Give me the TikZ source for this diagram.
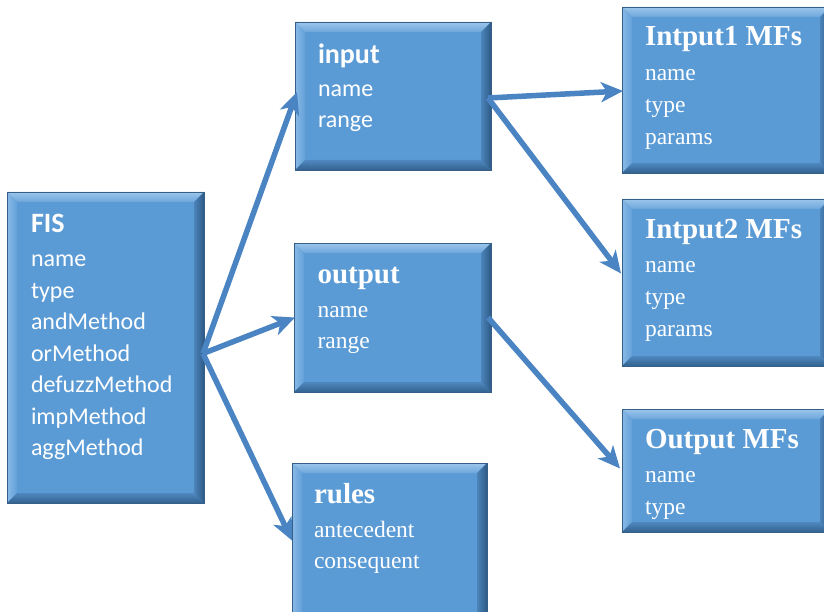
\documentclass[tikz,border=0pt]{standalone}
\usepackage{fontspec}
\setmainfont{Liberation Serif}
\newfontfamily\sansbody{Carlito}
\usetikzlibrary{arrows.meta,calc,fit}

\definecolor{boxblue}{HTML}{5B9BD5}
\definecolor{bevtopout}{HTML}{9DC6EB}
\definecolor{bevtopin}{HTML}{6CA6DB}
\definecolor{bevleftout}{HTML}{88BAE6}
\definecolor{bevleftin}{HTML}{63A0D8}
\definecolor{bevrightin}{HTML}{4C84BA}
\definecolor{bevrightout}{HTML}{2E5A86}
\definecolor{bevbotin}{HTML}{4F88C0}
\definecolor{bevbotout}{HTML}{33628F}
\definecolor{edgeblue}{HTML}{365F88}
\definecolor{arrowblue}{HTML}{4A84C2}

\tikzset{
  boxbody/.style={rectangle, inner sep=0pt, outer sep=0pt, fill=boxblue},
  txt/.style={anchor=base west, inner sep=0pt, outer sep=0pt, text=white},
  sanstitle/.style={txt, font=\sansbody\bfseries\fontsize{28bp}{30bp}\selectfont},
  sansitem/.style={txt, font=\sansbody\fontsize{24bp}{26bp}\selectfont},
  seriftitle/.style={txt, font=\bfseries\fontsize{29bp}{31bp}\selectfont},
  serifitem/.style={txt, font=\fontsize{23.5bp}{25bp}\selectfont},
  link/.style={draw=arrowblue, line width=5.5bp,
    -{Stealth[length=22bp,width=20bp,inset=6bp]}}
}

% bevelled box: name, left, top, right, bottom (y grows downwards)
\newcommand{\bevelbox}[5]{%
  \node[boxbody, fit={(#2,#3) (#4,#5)}] (#1) {};
  \shade[top color=bevtopout, bottom color=bevtopin]
    (#1.north west) -- (#1.north east)
    -- ($(#1.north east)+(-10,10)$) -- ($(#1.north west)+(10,10)$) -- cycle;
  \shade[left color=bevleftout, right color=bevleftin]
    (#1.north west) -- ($(#1.north west)+(10,10)$)
    -- ($(#1.south west)+(10,-10)$) -- (#1.south west) -- cycle;
  \shade[left color=bevrightin, right color=bevrightout]
    (#1.north east) -- (#1.south east)
    -- ($(#1.south east)+(-10,-10)$) -- ($(#1.north east)+(-10,10)$) -- cycle;
  \shade[top color=bevbotin, bottom color=bevbotout]
    (#1.south west) -- ($(#1.south west)+(10,-10)$)
    -- ($(#1.south east)+(-10,-10)$) -- (#1.south east) -- cycle;
  \draw[edgeblue, line width=0.8bp] (#1.north west) rectangle (#1.south east);
}

\begin{document}
\begin{tikzpicture}[x=1bp, y=-1bp]
  \useasboundingbox (0,0) rectangle (824,612);
  \fill[white] (0,0) rectangle (824,612);
  \clip (0,0) rectangle (824,612);

  % boxes
  \bevelbox{fis}{7}{192}{204}{503}
  \bevelbox{input}{295}{22}{491}{170}
  \bevelbox{output}{294}{243}{491}{392}
  \bevelbox{rules}{292}{463}{487}{622}
  \bevelbox{inmfa}{622}{7}{830}{173}
  \bevelbox{inmfb}{622}{199}{830}{366}
  \bevelbox{outmf}{622}{409}{830}{532}

  % FIS
  \node[sanstitle] (fis0) at (31,232.5) {FIS};
  \node[sansitem] (fis1) at (31,266.5) {name};
  \node[sansitem] (fis2) at (31,298) {type};
  \node[sansitem] (fis3) at (31,329.5) {andMethod};
  \node[sansitem] (fis4) at (31,361) {orMethod};
  \node[sansitem] (fis5) at (31,392.5) {defuzzMethod};
  \node[sansitem] (fis6) at (31,424) {impMethod};
  \node[sansitem] (fis7) at (31,455.5) {aggMethod};

  % input
  \node[sanstitle] (inp0) at (318,64) {input};
  \node[sansitem] (inp1) at (318,96.5) {name};
  \node[sansitem] (inp2) at (318,128) {range};

  % output
  \node[seriftitle] (out0) at (317.5,283) {output};
  \node[serifitem] (out1) at (317.5,317) {name};
  \node[serifitem] (out2) at (317.5,348) {range};

  % rules
  \node[seriftitle] (rul0) at (314,503) {rules};
  \node[serifitem] (rul1) at (314,537) {antecedent};
  \node[serifitem] (rul2) at (314,568) {consequent};

  % membership functions
  \node[seriftitle] (ma0) at (645,46) {Intput1 MFs};
  \node[serifitem] (ma1) at (645,81) {name};
  \node[serifitem] (ma2) at (645,112.5) {type};
  \node[serifitem] (ma3) at (645,144.5) {params};

  \node[seriftitle] (mb0) at (645,239) {Intput2 MFs};
  \node[serifitem] (mb1) at (645,272.5) {name};
  \node[serifitem] (mb2) at (645,304) {type};
  \node[serifitem] (mb3) at (645,336.5) {params};

  \node[seriftitle] (mc0) at (645,448) {Output MFs};
  \node[serifitem] (mc1) at (645,482) {name};
  \node[serifitem] (mc2) at (645,514) {type};

  % connectors
  \coordinate (fisout) at ($(fis.east)+(-1,6)$);
  \coordinate (inpout) at ($(input.east)+(-3,2)$);
  \coordinate (outout) at ($(output.east)+(-3,0)$);
  \draw[link] (fisout) -- ($(input.west)+(2,-4)$);
  \draw[link] (fisout) -- ($(output.west)+(1,0)$);
  \draw[link] (fisout) -- ($(rules.west)+(0,-2)$);
  \draw[link] (inpout) -- ($(inmfa.west)+(1,1)$);
  \draw[link] (inpout) -- ($(inmfb.west)+(-1,-9)$);
  \draw[link] (outout) -- ($(outmf.west)+(-2,-2)$);
\end{tikzpicture}
\end{document}
